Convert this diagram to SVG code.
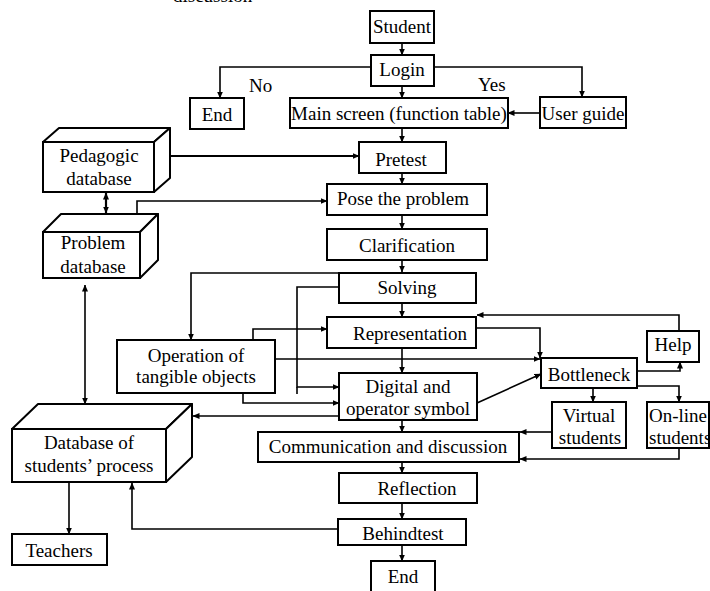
<svg xmlns="http://www.w3.org/2000/svg" width="710" height="591" viewBox="0 0 710 591">
  <style>
    .box { fill: #fff; stroke: #000; stroke-width: 2; }
    .face { fill: #fff; stroke: #000; stroke-width: 2; stroke-linejoin: round; }
    .t { font-family: "Liberation Serif", "Times New Roman", serif; font-size: 19px; fill: #000; text-anchor: middle; }
    .tl { font-family: "Liberation Serif", "Times New Roman", serif; font-size: 19px; fill: #000; }
    .wire { fill: none; stroke: #000; stroke-width: 1.6; }
    .arr { marker-end: url(#head); }
    .both { marker-start: url(#head); marker-end: url(#head); }
  </style>
  <defs>
    <marker id="head" markerUnits="userSpaceOnUse" markerWidth="7" markerHeight="7" refX="6.5" refY="3.5" orient="auto-start-reverse">
      <path d="M0,0.5 L7,3.5 L0,6.5 z" fill="#000"/>
    </marker>
  </defs>

  <rect width="710" height="591" fill="#fff"/>

  <!-- caption line cut off at the top edge -->
  <text class="tl" x="173" y="2">discussion</text>

  <!-- connectors -->
  <g id="connectors">
    <path class="wire arr" d="M402 43 V55"/>
    <path class="wire arr" d="M371 67 H220 V98"/>
    <path class="wire arr" d="M434 67 H582 V97"/>
    <path class="wire arr" d="M402 86 V98"/>
    <path class="wire arr" d="M540 113 H508"/>
    <path class="wire arr" d="M402 128 V142"/>
    <path class="wire arr" d="M170 156 H359" style="stroke-width:2"/>
    <path class="wire arr" d="M402 173 V184"/>
    <path class="wire both" d="M106 193 V213" style="stroke-width:2.2"/>
    <path class="wire arr" d="M137 214 V201 H327"/>
    <path class="wire arr" d="M402 215 V229"/>
    <path class="wire arr" d="M402 260 V272"/>
    <path class="wire arr" d="M339 273 H191 V340"/>
    <path class="wire arr" d="M339 287 H297 V387 H339"/>
    <path class="wire" d="M297 387 V394"/>
    <path class="wire arr" d="M402 303 V317"/>
    <path class="wire arr" d="M253 340 V329 H327"/>
    <path class="wire arr" d="M275 359 H540"/>
    <path class="wire arr" d="M476 328 H540 V358"/>
    <path class="wire arr" d="M402 348 V373"/>
    <path class="wire arr" d="M243 393 V403 H339"/>
    <path class="wire arr" d="M477 403 L541 374"/>
    <path class="wire arr" d="M679 331 V315 H477"/>
    <path class="wire arr" d="M637 371 H680 V362"/>
    <path class="wire arr" d="M593 388 V402"/>
    <path class="wire arr" d="M637 386 H679 V402"/>
    <path class="wire arr" d="M552 432 H520"/>
    <path class="wire arr" d="M679 448 V459 H520"/>
    <path class="wire arr" d="M402 420 V432"/>
    <path class="wire arr" d="M339 416 H193"/>
    <path class="wire both" d="M85 285 V404"/>
    <path class="wire arr" d="M69 482 V534"/>
    <path class="wire arr" d="M402 462 V473"/>
    <path class="wire arr" d="M402 503 V519"/>
    <path class="wire arr" d="M338 529 H132 V483"/>
    <path class="wire arr" d="M402 545 V561"/>
  </g>

  <text class="tl" x="249" y="92">No</text>
  <text class="tl" x="478" y="91">Yes</text>

  <g id="student">
    <rect class="box" x="370" y="11" width="64" height="32"/>
    <text class="t" x="402" y="33">Student</text>
  </g>
  <g id="login">
    <rect class="box" x="371" y="55" width="63" height="31"/>
    <text class="t" x="402" y="76">Login</text>
  </g>
  <g id="end-top">
    <rect class="box" x="190" y="98" width="54" height="31"/>
    <text class="t" x="217" y="121">End</text>
  </g>
  <g id="main-screen">
    <rect class="box" x="290" y="98" width="218" height="30"/>
    <text class="t" x="399" y="120">Main screen (function table)</text>
  </g>
  <g id="user-guide">
    <rect class="box" x="540" y="97" width="86" height="31"/>
    <text class="t" x="583" y="120">User guide</text>
  </g>
  <g id="pretest">
    <rect class="box" x="359" y="142" width="87" height="31"/>
    <text class="t" x="401" y="166">Pretest</text>
  </g>
  <g id="pedagogic-database">
    <polygon class="face" points="43,142 59,128 170,128 154,142"/>
    <polygon class="face" points="154,142 170,128 170,178 154,192"/>
    <rect class="box" x="43" y="142" width="111" height="50"/>
    <text class="t" x="99" y="162">Pedagogic</text>
    <text class="t" x="99" y="185">database</text>
  </g>
  <g id="pose-problem">
    <rect class="box" x="327" y="184" width="160" height="31"/>
    <text class="t" x="403" y="205">Pose the problem</text>
  </g>
  <g id="problem-database">
    <polygon class="face" points="43,232 61,214 158,214 140,232"/>
    <polygon class="face" points="140,232 158,214 158,260 140,278"/>
    <rect class="box" x="43" y="232" width="97" height="46"/>
    <text class="t" x="93" y="249">Problem</text>
    <text class="t" x="93" y="273">database</text>
  </g>
  <g id="clarification">
    <rect class="box" x="327" y="229" width="160" height="31"/>
    <text class="t" x="407" y="252">Clarification</text>
  </g>
  <g id="solving">
    <rect class="box" x="339" y="273" width="137" height="30"/>
    <text class="t" x="407" y="294">Solving</text>
  </g>
  <g id="representation">
    <rect class="box" x="327" y="317" width="149" height="31"/>
    <text class="t" x="410" y="340">Representation</text>
  </g>
  <g id="operation">
    <rect class="box" x="117" y="340" width="158" height="53"/>
    <text class="t" x="196" y="362">Operation of</text>
    <text class="t" x="196" y="383">tangible objects</text>
  </g>
  <g id="help">
    <rect class="box" x="647" y="331" width="52" height="31"/>
    <text class="t" x="673" y="351">Help</text>
  </g>
  <g id="bottleneck">
    <rect class="box" x="541" y="358" width="96" height="30"/>
    <text class="t" x="589" y="381">Bottleneck</text>
  </g>
  <g id="digital-operator">
    <rect class="box" x="339" y="373" width="138" height="47"/>
    <text class="t" x="408" y="393">Digital and</text>
    <text class="t" x="408" y="415">operator symbol</text>
  </g>
  <g id="virtual-students">
    <rect class="box" x="552" y="402" width="74" height="46"/>
    <text class="t" x="589" y="422">Virtual</text>
    <text class="t" x="590" y="444">students</text>
  </g>
  <g id="online-students">
    <rect class="box" x="647" y="402" width="62" height="46"/>
    <text class="tl" x="649" y="422">On-line</text>
    <text class="tl" x="649" y="444">students</text>
  </g>
  <g id="students-process-database">
    <polygon class="face" points="12,429 38,404 192,404 166,429"/>
    <polygon class="face" points="166,429 192,404 192,457 166,482"/>
    <rect class="box" x="12" y="429" width="154" height="53"/>
    <text class="t" x="89" y="449">Database of</text>
    <text class="t" x="89" y="472">students’ process</text>
  </g>
  <g id="communication">
    <rect class="box" x="258" y="432" width="261" height="30"/>
    <text class="t" x="388" y="453">Communication and discussion</text>
  </g>
  <g id="reflection">
    <rect class="box" x="339" y="473" width="138" height="30"/>
    <text class="t" x="417" y="495">Reflection</text>
  </g>
  <g id="behindtest">
    <rect class="box" x="338" y="519" width="128" height="26"/>
    <text class="t" x="403" y="540">Behindtest</text>
  </g>
  <g id="end-bottom">
    <rect class="box" x="371" y="561" width="64" height="32"/>
    <text class="t" x="403" y="583">End</text>
  </g>
  <g id="teachers">
    <rect class="box" x="12" y="534" width="95" height="31"/>
    <text class="t" x="59" y="557">Teachers</text>
  </g>
</svg>
